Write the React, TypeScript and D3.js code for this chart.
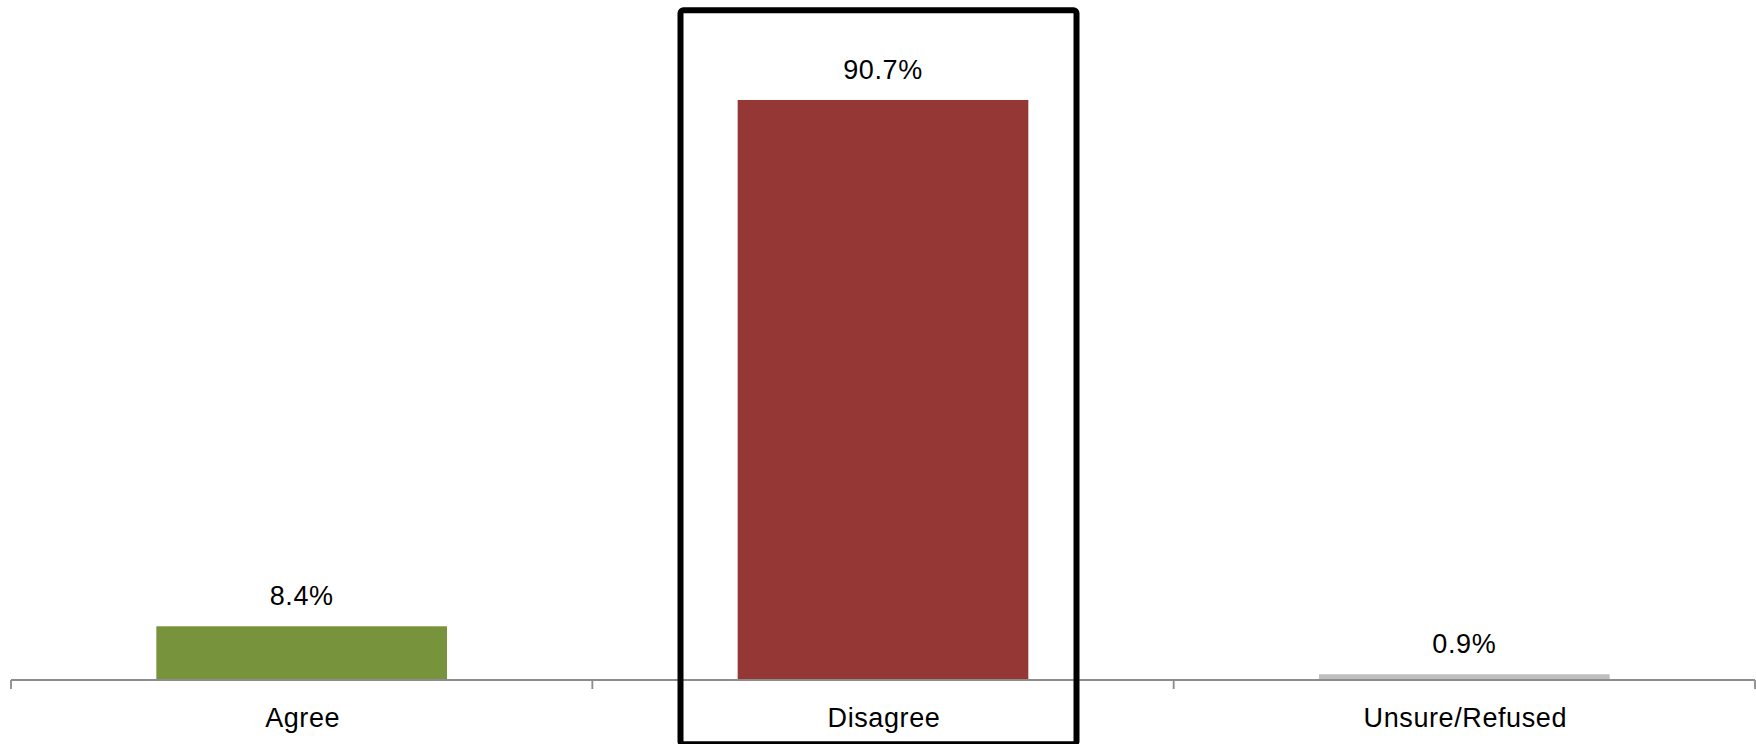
import React from "react";
import * as d3 from "d3";

const categories = ["Agree", "Disagree", "Unsure/Refused"];
const values = [8.4, 90.7, 0.9];
const valueLabels = ["8.4%", "90.7%", "0.9%"];
const colors = ["#77933c", "#953735", "#bfbfbf"];
const highlighted = "Disagree";

const W = 1756;
const H = 744;

export default function App() {
  const x = d3.scaleBand<string>().domain(categories).range([11, 1755]).paddingInner(0.5).paddingOuter(0.25);
  const band = d3.scaleBand<string>().domain(categories).range([11, 1755]).padding(0);
  const y = d3.scaleLinear().domain([0, 100]).range([680, 40.5]);
  const tickXs = [...categories.map((c) => band(c)!), band.range()[1]];
  const hb = band(highlighted)!;
  return (
    <svg width={W} height={H} style={{ position: "fixed", left: 0, top: 0, background: "#fff" }}
      fontFamily="'Liberation Sans', Arial, Helvetica, sans-serif">
      <rect x={0} y={0} width={W} height={H} fill="#fff" />
      {categories.map((c, i) => (
        <rect key={c} x={x(c)} y={y(values[i])} width={x.bandwidth()} height={y(0) - y(values[i])} fill={colors[i]} />
      ))}
      <line x1={band.range()[0]} x2={band.range()[1]} y1={y(0)} y2={y(0)} stroke="#8c8c8c" strokeWidth={1.8} />
      {tickXs.map((t, i) => (
        <line key={i} x1={t} x2={t} y1={y(0)} y2={y(0) + 9} stroke="#8c8c8c" strokeWidth={1.8} />
      ))}
      {categories.map((c, i) => (
        <text key={"v" + c} x={band(c)! + band.bandwidth() / 2} y={y(values[i]) - 21} textAnchor="middle" fontSize={27} letterSpacing={0.6} fill="#000">
          {valueLabels[i]}
        </text>
      ))}
      {categories.map((c) => (
        <text key={"l" + c} x={band(c)! + band.bandwidth() / 2 + 1} y={726.5} textAnchor="middle" fontSize={27} letterSpacing={0.6} fill="#000">
          {c}
        </text>
      ))}
      <rect x={hb + 670 - 11 - 581.33 + 10.5} y={10.3} width={396} height={734} fill="none" stroke="#000" strokeWidth={6} rx={3} />
    </svg>
  );
}
